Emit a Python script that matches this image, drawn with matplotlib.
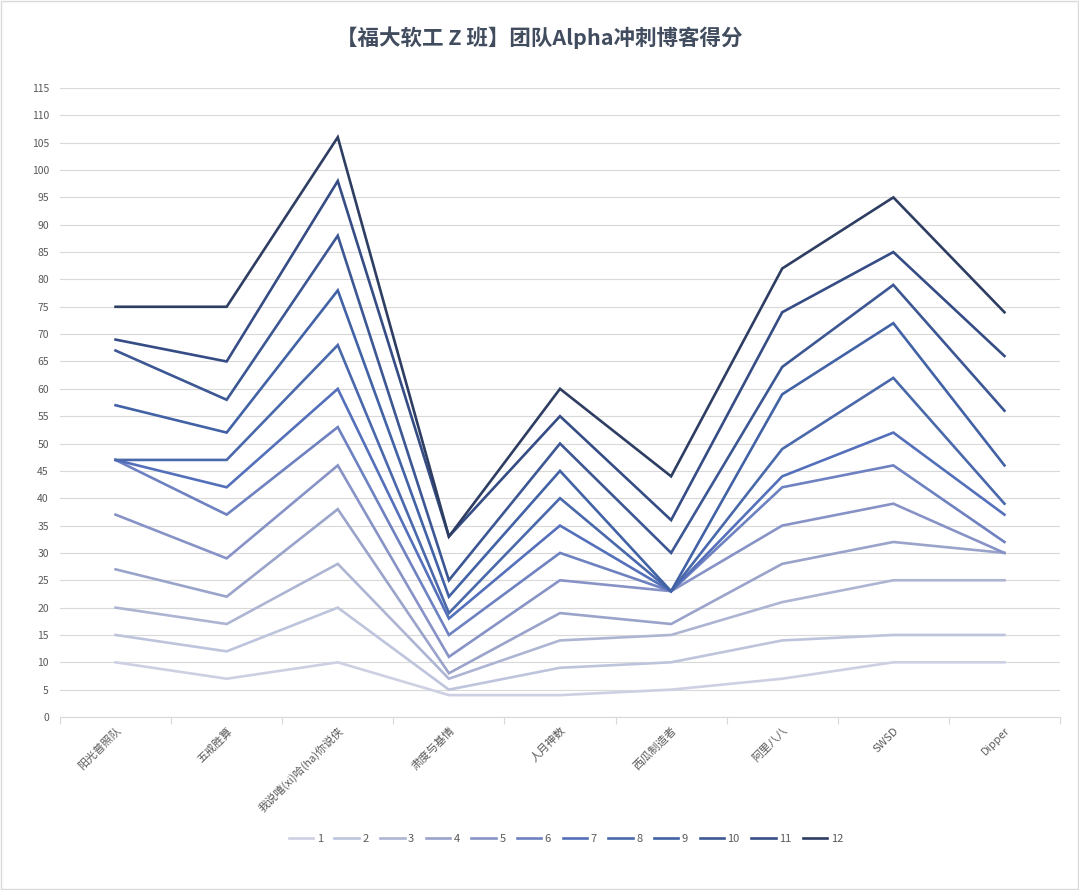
import matplotlib
matplotlib.use("Agg")
import matplotlib.pyplot as plt
from matplotlib.patches import Rectangle

plt.rcParams['font.family'] = ['Noto Sans CJK SC', 'DejaVu Sans']

title = "【福大软工 Z 班】团队Alpha冲刺博客得分"
categories = ["阳光普照队", "五戒胜算", "我说嘻(xi)哈(ha)你说侠", "肃度与基情", "人月神数",
              "西瓜制造者", "阿里八八", "SWSD", "Dipper"]
series_names = ["1", "2", "3", "4", "5", "6", "7", "8", "9", "10", "11", "12"]

# cumulative (stacked) values as displayed, one list per series
s1 = [10, 7, 10, 4, 4, 5, 7, 10, 10]
s2 = [15, 12, 20, 5, 9, 10, 14, 15, 15]
s3 = [20, 17, 28, 7, 14, 15, 21, 25, 25]
s4 = [27, 22, 38, 8, 19, 17, 28, 32, 30]
s5 = [37, 29, 46, 11, 25, 23, 35, 39, 30]
s6 = [47, 37, 53, 15, 30, 23, 42, 46, 32]
s7 = [47, 42, 60, 18, 35, 23, 44, 52, 37]
s8 = [47, 47, 68, 19, 40, 23, 49, 62, 39]
s9 = [57, 52, 78, 22, 45, 23, 59, 72, 46]
s10 = [67, 58, 88, 25, 50, 30, 64, 79, 56]
s11 = [69, 65, 98, 33, 55, 36, 74, 85, 66]
s12 = [75, 75, 106, 33, 60, 44, 82, 95, 74]
series = [s1, s2, s3, s4, s5, s6, s7, s8, s9, s10, s11, s12]

colors = ["#cdd0e3", "#bec4dc", "#adb5d3", "#9aa3c9", "#8793c6", "#6e81c0",
          "#5570bb", "#4a69aa", "#4262a6", "#3c5793", "#354c85", "#2e3d62"]

fig = plt.figure(figsize=(10.79, 8.90), dpi=100)
fig.patches.append(Rectangle((0.001, 0.001), 0.998, 0.998, transform=fig.transFigure,
                             fill=False, edgecolor="#d9d9d9", linewidth=1.0))
ax = fig.add_axes([60 / 1079, 1 - 717 / 890, 1000 / 1079, (717 - 88) / 890])

x = list(range(len(categories)))
for name, vals, c in zip(series_names, series, colors):
    ax.plot(x, vals, color=c, linewidth=1.9, label=name, solid_joinstyle='miter')

ax.set_xlim(-0.5, len(categories) - 0.5)
ax.set_ylim(0, 115)
ax.set_yticks(range(0, 116, 5))
ax.yaxis.grid(True, color="#d9d9d9", linewidth=0.8)
ax.set_axisbelow(True)
for sp in ["top", "right", "left"]:
    ax.spines[sp].set_visible(False)
ax.spines["bottom"].set_color("#d9d9d9")
ax.spines["bottom"].set_linewidth(0.8)

ax.set_xticks(x)
ax.set_xticklabels(categories, rotation=45, ha="right", rotation_mode="anchor",
                   fontsize=8, color="#595959")
ax.tick_params(axis="x", length=0, pad=6)
ax.set_xticks([i + 0.5 for i in range(-1, len(categories))], minor=True)
ax.tick_params(axis="x", which="minor", length=5, color="#d9d9d9", width=0.8)
ax.tick_params(axis="y", length=0, labelsize=7.5, labelcolor="#595959", pad=8)

fig.text(0.5, 1 - 38 / 890, title, ha="center", va="center", fontsize=15.5,
         fontweight="bold", color="#414c5e")

leg = fig.legend(loc="center", bbox_to_anchor=(566 / 1079, 1 - 839 / 890), ncol=12, frameon=False,
                 fontsize=8, handlelength=2.2, handletextpad=0.3, columnspacing=1.05)
for t in leg.get_texts():
    t.set_color("#595959")

fig.savefig("out.png", dpi=100)
